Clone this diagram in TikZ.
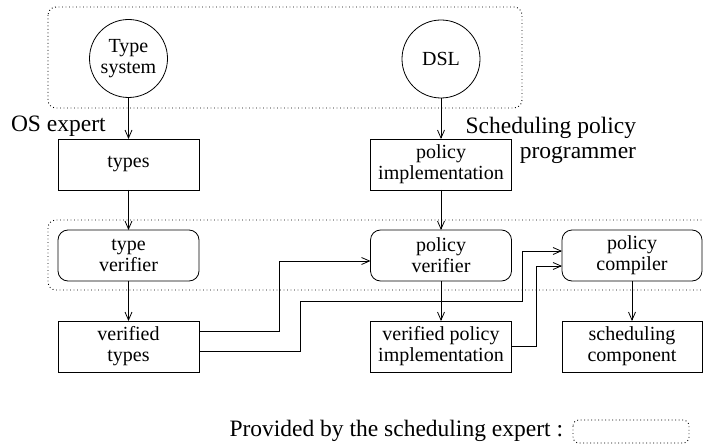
\documentclass[tikz,border=0pt]{standalone}
\usepackage{fontspec}
\setmainfont{Liberation Serif}
\usetikzlibrary{arrows.meta,calc}
\begin{document}
\begin{tikzpicture}[x=1pt,y=-1pt,
  every node/.style={inner sep=0pt,outer sep=0pt},
  boxtext/.style={font=\fontsize{20}{21}\selectfont,align=center},
  sqbox/.style={boxtext,draw,line width=0.8pt,minimum width=141pt,minimum height=51pt},
  rbox/.style={sqbox,rounded corners=10pt},
  circ/.style={boxtext,draw,circle,line width=0.8pt,minimum size=78pt},
  lbl/.style={font=\fontsize{23.5}{25}\selectfont},
  grp/.style={line width=0.9pt,dash pattern=on 0.9pt off 2.6pt,rounded corners=8pt},
  arr/.style={line width=0.8pt,-{Straight Barb[length=8pt,width=7pt,line width=0.8pt]}}]
\useasboundingbox (0,0) rectangle (703,446);
\clip (0,0) rectangle (703,446);
% groups
\draw[grp] (48,7) rectangle (522,108);
\draw[grp] (48,220) rectangle (720,290);
% nodes
\node[circ] (ts) at (128.5,58.5) {Type\\system};
\node[circ] (dsl) at (441,59) {DSL};
\node[sqbox] (ty) at (128.5,164.5) {types};
\node[sqbox] (pi) at (441,164.5) {policy\\implementation};
\node[rbox] (tv) at (128.5,255.5) {type\\verifier};
\node[rbox] (pv) at (441,255.5) {policy\\verifier};
\node[rbox,minimum width=140pt] (pc) at (632,255.5) {policy\\compiler};
\node[sqbox] (vt) at (128.5,346.5) {verified\\types};
\node[sqbox] (vpi) at (441,346.5) {verified policy\\implementation};
\node[sqbox,minimum width=140pt] (sc) at (632,346.5) {scheduling\\component};
% labels
\node[lbl,anchor=west] (os) at (11,126) {OS expert};
\node[lbl,anchor=east,align=right] (spp) at (636,140.5) {Scheduling policy\\programmer};
\node[lbl,anchor=east] (leg) at (563,431) {Provided by the scheduling expert :};
\draw[grp,rounded corners=6pt] (573,420) rectangle (689,443);
% connectors
\draw[arr] (ts) -- (ty);
\draw[arr] (dsl) -- (pi);
\draw[arr] (ty) -- (tv);
\draw[arr] (pi) -- (pv);
\draw[arr] (tv) -- (vt);
\draw[arr] (pv) -- (vpi);
\draw[arr] (pc) -- (sc);
\draw[arr] (vt.east |- 0,331) -| (279,261) -- (pv.west |- 0,261);
\draw[arr] (vt.east |- 0,351) -| (300,301) -| (522,251) -- (pc.west |- 0,251);
\draw[arr] (vpi.east |- 0,346) -| (536,266) -- (pc.west |- 0,266);
\end{tikzpicture}
\end{document}
